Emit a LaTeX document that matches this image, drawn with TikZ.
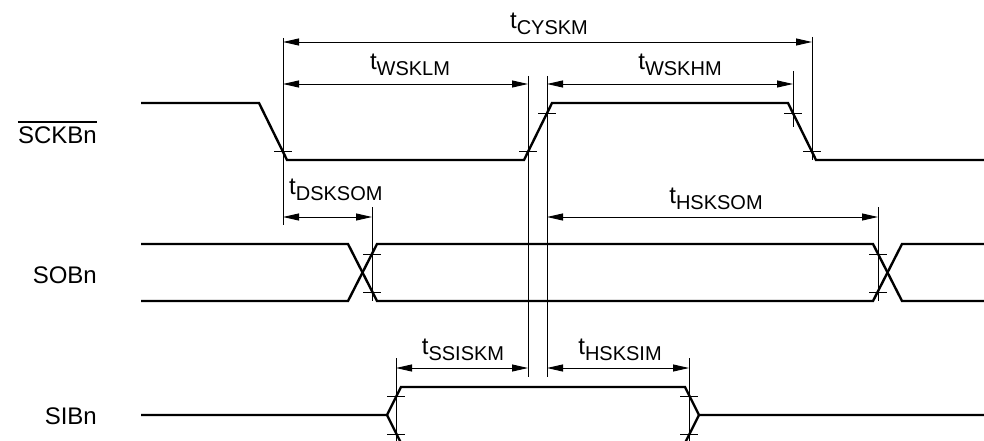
\documentclass[tikz,border=0pt]{standalone}
\usepackage{fontspec}
\setmainfont{Liberation Sans}
\usetikzlibrary{arrows.meta}
\newcommand\tsub[1]{{\fontsize{24}{24}\selectfont t}\raisebox{-6pt}{\fontsize{20}{20}\selectfont #1}}
\begin{document}
\begin{tikzpicture}[x=1pt,y=-1pt,
  sig/.style={line width=2.4pt, line join=miter},
  thinl/.style={line width=0.9pt},
  tick/.style={line width=0.9pt},
  dim/.style={line width=0.9pt, {Triangle[length=16pt,width=7pt]}-{Triangle[length=16pt,width=7pt]}},
  tlab/.style={inner sep=0pt, anchor=base},
  sname/.style={inner sep=0pt, anchor=base east, font=\fontsize{24}{24}\selectfont}]
\useasboundingbox (0,0) rectangle (984,441);
\clip (0,0) rectangle (984,441);
\fill[white] (0,0) rectangle (984,441);

% signal names
\node[sname] (nsck) at (97,143) {SCKBn};
\draw[line width=1.4pt] ([yshift=4pt]nsck.north west) -- ([yshift=4pt]nsck.north east);
\node[sname] (nsob) at (97,283) {SOBn};
\node[sname] (nsib) at (97,424) {SIBn};

% SCKBn
\draw[sig] (141,103) -- (259,103) -- (287,160) -- (524,160) -- (552,103) -- (788,103) -- (816,160) -- (984,160);
% SOBn
\draw[sig] (141,244) -- (348,244) -- (377,301) -- (873,301) -- (902,244) -- (984,244);
\draw[sig] (141,301) -- (348,301) -- (377,244) -- (873,244) -- (902,301) -- (984,301);
% SIBn
\draw[sig] (141,415) -- (387,415) -- (401,387) -- (685,387) -- (699,415) -- (984,415);
\draw[sig] (387,415) -- (401,443) -- (685,443) -- (699,415);

% reference verticals
\coordinate (v283t) at (283,38);  \coordinate (v283b) at (283,225);
\coordinate (v812t) at (812,37);  \coordinate (v812b) at (812,160);
\coordinate (v528t) at (528,76);  \coordinate (v528b) at (528,377);
\coordinate (v547t) at (547,76);  \coordinate (v547b) at (547,377);
\coordinate (v793t) at (793,71);  \coordinate (v793b) at (793,127);
\coordinate (v372t) at (372,207); \coordinate (v372b) at (372,301);
\coordinate (v878t) at (878,207); \coordinate (v878b) at (878,301);
\coordinate (v396t) at (396,358); \coordinate (v396b) at (396,441);
\coordinate (v689t) at (689,358); \coordinate (v689b) at (689,441);
\foreach \v in {283,812,528,547,793,372,878,396,689}
  \draw[thinl] (v\v t) -- (v\v b);

% ticks
\foreach \x/\y in {283/151, 528/151, 547/113, 793/113, 812/151,
                   372/254, 372/292, 878/254, 878/292,
                   396/396, 396/434, 689/396, 689/434}
  \draw[tick] (\x-9,\y) -- (\x+9,\y);

% dimension arrows
\draw[dim] (283,42) -- (812,42);
\draw[dim] (283,84) -- (528,84);
\draw[dim] (547,84) -- (793,84);
\draw[dim] (283,217) -- (372,217);
\draw[dim] (547,217) -- (878,217);
\draw[dim] (396,368) -- (528,368);
\draw[dim] (547,368) -- (689,368);

% labels
\node[tlab] (lcy) at (549,29) {\tsub{CYSKM}};
\node[tlab] (lwl) at (410,70) {\tsub{WSKLM}};
\node[tlab] (lwh) at (680,70) {\tsub{WSKHM}};
\node[tlab, anchor=base west] (lds) at (289,194) {\tsub{DSKSOM}};
\node[tlab] (lhs) at (716,203) {\tsub{HSKSOM}};
\node[tlab] (lss) at (463,354) {\tsub{SSISKM}};
\node[tlab] (lhi) at (620,354) {\tsub{HSKSIM}};
\end{tikzpicture}
\end{document}
